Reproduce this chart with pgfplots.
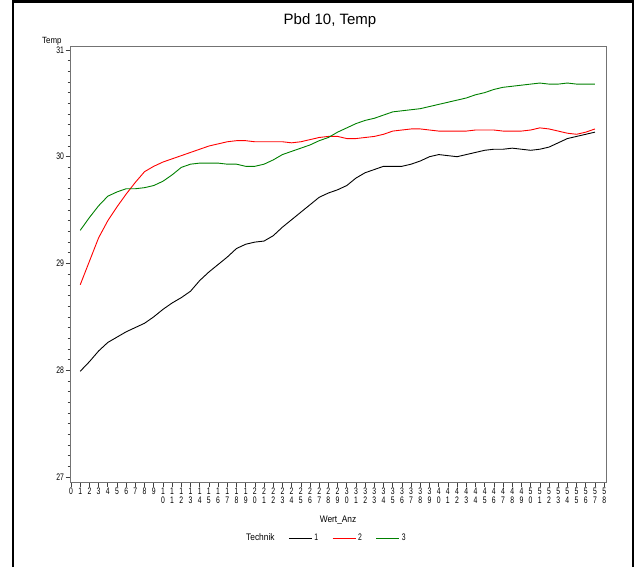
\documentclass[border=0pt]{standalone}
\usepackage{fontspec}
\setmainfont{Liberation Sans}
\usepackage{pgfplots}
\usepackage{pgfplotstable}
\pgfplotsset{compat=1.18}
\newcommand\nar[1]{\scalebox{0.72}[1]{#1}}
\newcommand\txt[1]{\scalebox{0.88}[1]{#1}}
\newcommand\tk[2]{\nar{#1}\\\nar{#2}}
\definecolor{sasgreen}{RGB}{0,128,0}

\pgfplotstableread{
x y
1 27.99
2 28.08
3 28.18
4 28.26
5 28.31
6 28.36
7 28.40
8 28.44
9 28.50
10 28.57
11 28.63
12 28.68
13 28.74
14 28.84
15 28.92
16 28.99
17 29.06
18 29.14
19 29.18
20 29.20
21 29.21
22 29.26
23 29.34
24 29.41
25 29.48
26 29.55
27 29.62
28 29.66
29 29.69
30 29.73
31 29.80
32 29.85
33 29.88
34 29.91
35 29.91
36 29.91
37 29.93
38 29.96
39 30.00
40 30.02
41 30.01
42 30.00
43 30.02
44 30.04
45 30.06
46 30.07
47 30.07
48 30.08
49 30.07
50 30.06
51 30.07
52 30.09
53 30.13
54 30.17
55 30.19
56 30.21
57 30.23
}\techA

\pgfplotstableread{
x y
1 28.80
2 29.02
3 29.24
4 29.40
5 29.53
6 29.65
7 29.76
8 29.86
9 29.91
10 29.95
11 29.98
12 30.01
13 30.04
14 30.07
15 30.10
16 30.12
17 30.14
18 30.15
19 30.15
20 30.14
21 30.14
22 30.14
23 30.14
24 30.13
25 30.14
26 30.16
27 30.18
28 30.19
29 30.19
30 30.17
31 30.17
32 30.18
33 30.19
34 30.21
35 30.24
36 30.25
37 30.26
38 30.26
39 30.25
40 30.24
41 30.24
42 30.24
43 30.24
44 30.25
45 30.25
46 30.25
47 30.24
48 30.24
49 30.24
50 30.25
51 30.27
52 30.26
53 30.24
54 30.22
55 30.21
56 30.23
57 30.26
}\techB

\pgfplotstableread{
x y
1 29.31
2 29.43
3 29.54
4 29.63
5 29.67
6 29.70
7 29.70
8 29.71
9 29.73
10 29.77
11 29.83
12 29.90
13 29.93
14 29.94
15 29.94
16 29.94
17 29.93
18 29.93
19 29.91
20 29.91
21 29.93
22 29.97
23 30.02
24 30.05
25 30.08
26 30.11
27 30.15
28 30.18
29 30.23
30 30.27
31 30.31
32 30.34
33 30.36
34 30.39
35 30.42
36 30.43
37 30.44
38 30.45
39 30.47
40 30.49
41 30.51
42 30.53
43 30.55
44 30.58
45 30.60
46 30.63
47 30.65
48 30.66
49 30.67
50 30.68
51 30.69
52 30.68
53 30.68
54 30.69
55 30.68
56 30.68
57 30.68
}\techC

\begin{document}
\begin{tikzpicture}
\path[use as bounding box] (-70.1pt,-85pt) rectangle (565.9pt,482pt);
\draw[line width=1.4pt] (-57.1pt,-85pt) -- (-57.1pt,482pt);
\draw[line width=1.4pt] (562.9pt,-85pt) -- (562.9pt,482pt);
\draw[line width=3pt] (-57.8pt,480.5pt) -- (563.6pt,480.5pt);
\begin{axis}[
  width=535.9pt, height=436pt, scale only axis,
  xmin=-0.1, xmax=58.2, ymin=26.953, ymax=31.037,
  axis line style={black!55, line width=0.9pt},
  tick style={black!75, line width=0.6pt},
  tick align=outside,
  major tick length=4.5pt, minor tick length=2.5pt,
  xtick pos=bottom, ytick pos=left,
  xtick={0,...,58},
  xticklabels={\nar{0},\nar{1},\nar{2},\nar{3},\nar{4},\nar{5},\nar{6},\nar{7},\nar{8},\nar{9},
    \tk10,\tk11,\tk12,\tk13,\tk14,\tk15,\tk16,\tk17,\tk18,\tk19,
    \tk20,\tk21,\tk22,\tk23,\tk24,\tk25,\tk26,\tk27,\tk28,\tk29,
    \tk30,\tk31,\tk32,\tk33,\tk34,\tk35,\tk36,\tk37,\tk38,\tk39,
    \tk40,\tk41,\tk42,\tk43,\tk44,\tk45,\tk46,\tk47,\tk48,\tk49,
    \tk50,\tk51,\tk52,\tk53,\tk54,\tk55,\tk56,\tk57,\tk58},
  xticklabel style={align=center, anchor=north, font=\fontsize{9.5}{9}\selectfont, inner sep=1.5pt},
  ytick={27,28,29,30,31},
  yticklabels={\nar{27},\nar{28},\nar{29},\nar{30},\nar{31}},
  yticklabel style={font=\fontsize{9.5}{9}\selectfont, inner sep=1.5pt},
  minor y tick num=9,
  title={Pbd 10, Temp},
  title style={font=\fontsize{15}{15}\selectfont, at={(rel axis cs:0.485,1)}, anchor=base, yshift=15pt},
  xlabel={\txt{Wert\_Anz}},
  xlabel style={font=\fontsize{9.5}{9}\selectfont, at={(rel axis cs:0.5,0)}, anchor=center, yshift=-38pt},
  ylabel={\txt{Temp}},
  ylabel style={rotate=-90, font=\fontsize{9}{9}\selectfont, at={(rel axis cs:0,1)}, anchor=base east, xshift=-5pt, yshift=2.5pt},
  legend columns=-1,
  legend style={draw=none, fill=none, font=\fontsize{9.5}{9}\selectfont,
    at={(axis description cs:0.3245,-0.1284)}, anchor=west, inner sep=0pt,
    /tikz/every even column/.append style={column sep=12pt}},
  legend image code/.code={\draw[#1] (0pt,0pt) -- (23pt,0pt);},
]
\addlegendimage{empty legend}
\addlegendentry{\txt{Technik}}
\addplot[black, line width=0.9pt] table[x=x,y=y] {\techA};
\addlegendentry{\nar{1}}
\addplot[red, line width=0.9pt] table[x=x,y=y] {\techB};
\addlegendentry{\nar{2}}
\addplot[sasgreen, line width=0.9pt] table[x=x,y=y] {\techC};
\addlegendentry{\nar{3}}
\end{axis}
\end{tikzpicture}
\end{document}
